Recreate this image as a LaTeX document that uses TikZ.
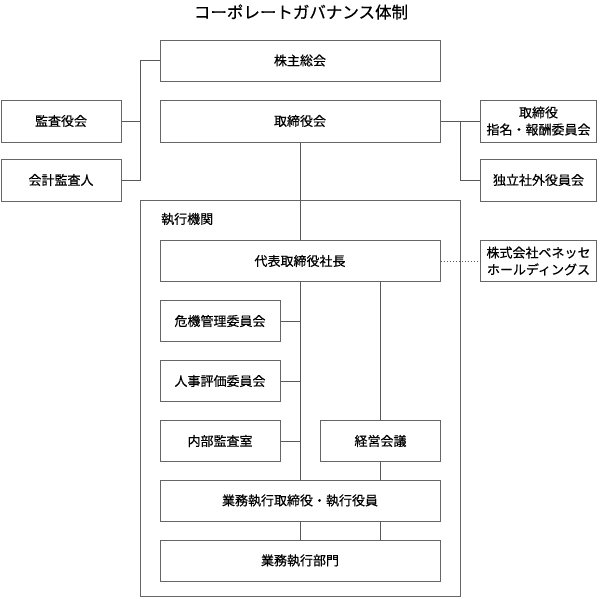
\documentclass[tikz,border=0pt]{standalone}
\usepackage{fontspec}
\newfontfamily\cjk[FakeBold=0.4]{Noto Sans CJK JP}
\usetikzlibrary{calc}
\begin{document}
\begin{tikzpicture}[x=1pt,y=-1pt,
  box/.style={draw=black!60, line width=1pt, fill=white, inner sep=0pt,
    font=\cjk\fontsize{13}{17}\selectfont, align=center},
  conn/.style={draw=black!65, line width=1pt},
  frame/.style={draw=black!60, line width=1pt}]
\useasboundingbox (0,0) rectangle (601,598);
% title
\node[font=\cjk\fontsize{16.5}{20}\selectfont] (title) at (301,12) {コーポレートガバナンス体制};
% executive frame
\node[frame, minimum width=320pt, minimum height=396pt, inner sep=0pt] (exec) at (300.5,398) {};
\node[anchor=west, font=\cjk\fontsize{13}{15}\selectfont, inner sep=0pt] (execlabel) at (161,219) {執行機関};
% coordinates
\coordinate (lt) at (140.5,60.5);
\coordinate (lb) at (140.5,180);
\coordinate (rv) at (460.5,121);
% boxes
\node[box, minimum width=280pt, minimum height=41pt] (kabu) at (300,60.5) {株主総会};
\node[box, minimum width=280pt, minimum height=42pt] (tori) at (300,121) {取締役会};
\node[box, minimum width=120pt, minimum height=42pt] (kansa) at (61,121) {監査役会};
\node[box, minimum width=120pt, minimum height=42pt] (kaikei) at (61,180) {会計監査人};
\node[box, minimum width=116pt, minimum height=42pt] (shimei) at (538.5,121) {取締役\\指名・報酬委員会};
\node[box, minimum width=116pt, minimum height=42pt] (dokuritsu) at (538.5,180) {独立社外役員会};
\node[box, minimum width=280pt, minimum height=41pt] (shacho) at (300,261) {代表取締役社長};
\node[box, minimum width=116pt, minimum height=41pt] (benesse) at (538.5,261) {株式会社ベネッセ\\ホールディングス};
\node[box, minimum width=120pt, minimum height=41pt] (kiki) at (220,321) {危機管理委員会};
\node[box, minimum width=120pt, minimum height=41pt] (jinji) at (220,381) {人事評価委員会};
\node[box, minimum width=120pt, minimum height=41pt] (naibu) at (220,441) {内部監査室};
\node[box, minimum width=120pt, minimum height=41pt] (keiei) at (380.5,441) {経営会議};
\node[box, minimum width=280pt, minimum height=41pt] (gtori) at (300,500.5) {業務執行取締役・執行役員};
\node[box, minimum width=280pt, minimum height=41pt] (gbumon) at (300,560.5) {業務執行部門};
% connectors
\draw[conn] (kabu.west) -- (lt) -- (lb) -- (kaikei.east);
\draw[conn] (kansa.east) -- (kansa.east -| lt);
\draw[conn] (tori.east) -- (shimei.west);
\draw[conn] (rv) |- (dokuritsu.west);
\draw[conn] (tori.south) -- (shacho.north);
\draw[draw=black!65, line width=1pt, dotted] (shacho.east) -- (benesse.west);
\draw[conn] (shacho.south) -- (gtori.north);
\draw[conn] (kiki.east) -- (kiki.east -| shacho.south);
\draw[conn] (jinji.east) -- (jinji.east -| shacho.south);
\draw[conn] (naibu.east) -- (naibu.east -| shacho.south);
\draw[conn] (keiei.north |- shacho.south) -- (keiei.north);
\draw[conn] (keiei.south) -- (keiei.south |- gtori.north);
\draw[conn] (gtori.south) -- (gbumon.north);
\draw[conn] (keiei.south |- gtori.south) -- (keiei.south |- gbumon.north);
\end{tikzpicture}
\end{document}
